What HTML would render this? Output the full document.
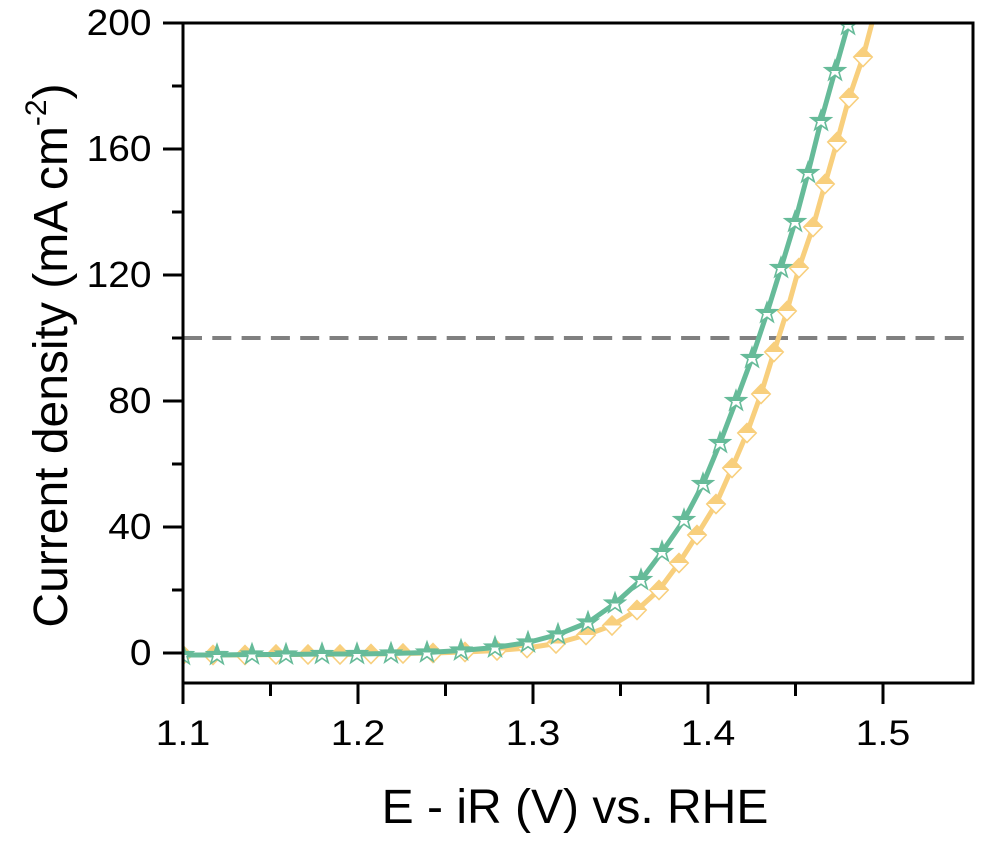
<!DOCTYPE html>
<html>
<head>
<meta charset="utf-8">
<style>
  html, body { margin: 0; padding: 0; background: #ffffff; }
  svg { display: block; }
  text { font-family: "Liberation Sans", Arial, Helvetica, sans-serif; fill: #000; }
</style>
</head>
<body>
<svg width="990" height="844" viewBox="0 0 990 844" xmlns="http://www.w3.org/2000/svg">
  <defs>
    <clipPath id="plot"><rect x="183" y="23" width="790" height="660"/></clipPath>
    <clipPath id="tophalf"><rect x="-14" y="-14" width="28" height="14"/></clipPath>
    <g id="st">
      <path d="M0,-10.5 L2.5,-3.4 L10,-3.25 L4,1.3 L6.2,8.5 L0,4.2 L-6.2,8.5 L-4,1.3 L-10,-3.25 L-2.5,-3.4 Z" fill="#ffffff" stroke="#66bb99" stroke-width="1.6" stroke-linejoin="miter"/>
      <path d="M0,-10.5 L2.5,-3.4 L10,-3.25 L4,1.3 L6.2,8.5 L0,4.2 L-6.2,8.5 L-4,1.3 L-10,-3.25 L-2.5,-3.4 Z" fill="#66bb99" clip-path="url(#tophalf)"/>
    </g>
    <g id="dm">
      <path d="M0,-9.5 L9.2,0 L0,9.5 L-9.2,0 Z" fill="#ffffff" stroke="#f8cf7d" stroke-width="1.6"/>
      <path d="M0,-9.5 L9.2,0 L-9.2,0 Z" fill="#f8cf7d"/>
    </g>
  </defs>

  <!-- dashed reference line at 100 mA cm-2 -->
  <line x1="183" y1="338" x2="973" y2="338" stroke="#808080" stroke-width="4" stroke-dasharray="19 10.3"/>

  <g clip-path="url(#plot)">
    <!-- yellow curve -->
    <polyline fill="none" stroke="#f8cf7d" stroke-width="5" stroke-linejoin="round" stroke-linecap="round"
      points="183,655 213,655 245,655 276,654.5 308,654.5 340,654.5 371,654 403,653.5 433,653 465,652 497,650.5 527,648 556,643.5 586,635 612,625.5 637,610 659,590 679,563 697,535 716,504 732,468 747,433 761,394 774,352 787,311 799,268 813,227 825,184 837,142 849,98 863,57 872,23 876,8"/>
    <g>
      <use href="#dm" x="183" y="655"/>
      <use href="#dm" x="213" y="655"/>
      <use href="#dm" x="245" y="655"/>
      <use href="#dm" x="276" y="654.5"/>
      <use href="#dm" x="308" y="654.5"/>
      <use href="#dm" x="340" y="654.5"/>
      <use href="#dm" x="371" y="654"/>
      <use href="#dm" x="403" y="653.5"/>
      <use href="#dm" x="433" y="653"/>
      <use href="#dm" x="465" y="652"/>
      <use href="#dm" x="497" y="650.5"/>
      <use href="#dm" x="527" y="648"/>
      <use href="#dm" x="556" y="643.5"/>
      <use href="#dm" x="586" y="635"/>
      <use href="#dm" x="612" y="625.5"/>
      <use href="#dm" x="637" y="610"/>
      <use href="#dm" x="659" y="590"/>
      <use href="#dm" x="679" y="563"/>
      <use href="#dm" x="697" y="535"/>
      <use href="#dm" x="716" y="504"/>
      <use href="#dm" x="732" y="468"/>
      <use href="#dm" x="747" y="433"/>
      <use href="#dm" x="761" y="394"/>
      <use href="#dm" x="774" y="352"/>
      <use href="#dm" x="787" y="311"/>
      <use href="#dm" x="799" y="268"/>
      <use href="#dm" x="813" y="227"/>
      <use href="#dm" x="825" y="184"/>
      <use href="#dm" x="837" y="142"/>
      <use href="#dm" x="849" y="98"/>
      <use href="#dm" x="863" y="57"/>
    </g>

    <!-- green curve -->
    <polyline fill="none" stroke="#66bb99" stroke-width="5" stroke-linejoin="round" stroke-linecap="round"
      points="183,655 217,655 252,654.5 286,654.5 322,654 357,654 391,653.5 427,652.5 461,650.5 495,647.5 528,642.5 558,634.5 588,622.5 615,603.5 641,580 662,552 684,520 703,484 720,443 736,401 752,358 767,313 781,268 795,222 808,173 821,121 835,71 848,25 852,8"/>
    <g>
      <use href="#st" x="183" y="655"/>
      <use href="#st" x="217" y="655"/>
      <use href="#st" x="252" y="654.5"/>
      <use href="#st" x="286" y="654.5"/>
      <use href="#st" x="322" y="654"/>
      <use href="#st" x="357" y="654"/>
      <use href="#st" x="391" y="653.5"/>
      <use href="#st" x="427" y="652.5"/>
      <use href="#st" x="461" y="650.5"/>
      <use href="#st" x="495" y="647.5"/>
      <use href="#st" x="528" y="642.5"/>
      <use href="#st" x="558" y="634.5"/>
      <use href="#st" x="588" y="622.5"/>
      <use href="#st" x="615" y="603.5"/>
      <use href="#st" x="641" y="580"/>
      <use href="#st" x="662" y="552"/>
      <use href="#st" x="684" y="520"/>
      <use href="#st" x="703" y="484"/>
      <use href="#st" x="720" y="443"/>
      <use href="#st" x="736" y="401"/>
      <use href="#st" x="752" y="358"/>
      <use href="#st" x="767" y="313"/>
      <use href="#st" x="781" y="268"/>
      <use href="#st" x="795" y="222"/>
      <use href="#st" x="808" y="173"/>
      <use href="#st" x="821" y="121"/>
      <use href="#st" x="835" y="71"/>
      <use href="#st" x="848" y="25"/>
    </g>
  </g>

  <!-- frame -->
  <rect x="183" y="23" width="790" height="660" fill="none" stroke="#000" stroke-width="3"/>

  <!-- y ticks -->
  <g stroke="#000" stroke-width="3">
    <line x1="163" y1="653" x2="183" y2="653"/>
    <line x1="163" y1="527" x2="183" y2="527"/>
    <line x1="163" y1="401" x2="183" y2="401"/>
    <line x1="163" y1="275" x2="183" y2="275"/>
    <line x1="163" y1="149" x2="183" y2="149"/>
    <line x1="163" y1="23" x2="183" y2="23"/>
    <line x1="172" y1="590" x2="183" y2="590"/>
    <line x1="172" y1="464" x2="183" y2="464"/>
    <line x1="172" y1="338" x2="183" y2="338"/>
    <line x1="172" y1="212" x2="183" y2="212"/>
    <line x1="172" y1="86" x2="183" y2="86"/>
  </g>
  <!-- x ticks -->
  <g stroke="#000" stroke-width="3">
    <line x1="183" y1="683" x2="183" y2="704"/>
    <line x1="358" y1="683" x2="358" y2="704"/>
    <line x1="533" y1="683" x2="533" y2="704"/>
    <line x1="708" y1="683" x2="708" y2="704"/>
    <line x1="883" y1="683" x2="883" y2="704"/>
    <line x1="270.5" y1="683" x2="270.5" y2="696"/>
    <line x1="445.5" y1="683" x2="445.5" y2="696"/>
    <line x1="620.5" y1="683" x2="620.5" y2="696"/>
    <line x1="795.5" y1="683" x2="795.5" y2="696"/>
  </g>

  <!-- y tick labels -->
  <g font-size="36" text-anchor="end">
    <text transform="translate(151.5,665) scale(1.08,1)">0</text>
    <text transform="translate(151.5,539) scale(1.08,1)">40</text>
    <text transform="translate(151.5,413) scale(1.08,1)">80</text>
    <text transform="translate(151.5,287) scale(1.08,1)">120</text>
    <text transform="translate(151.5,161) scale(1.08,1)">160</text>
    <text transform="translate(151.5,35) scale(1.08,1)">200</text>
  </g>

  <!-- x tick labels -->
  <g font-size="35" text-anchor="middle">
    <text transform="translate(183,745) scale(1.12,1)">1.1</text>
    <text transform="translate(358,745) scale(1.12,1)">1.2</text>
    <text transform="translate(533,745) scale(1.12,1)">1.3</text>
    <text transform="translate(708,745) scale(1.12,1)">1.4</text>
    <text transform="translate(883,745) scale(1.12,1)">1.5</text>
  </g>

  <!-- axis titles -->
  <text x="575" y="823" font-size="48" text-anchor="middle">E - iR (V) vs. RHE</text>
  <text transform="translate(67,355.5) rotate(-90)" font-size="48" text-anchor="middle">Current density (mA cm<tspan font-size="30" dy="-21">-2</tspan><tspan dy="21">)</tspan></text>
</svg>
</body>
</html>
